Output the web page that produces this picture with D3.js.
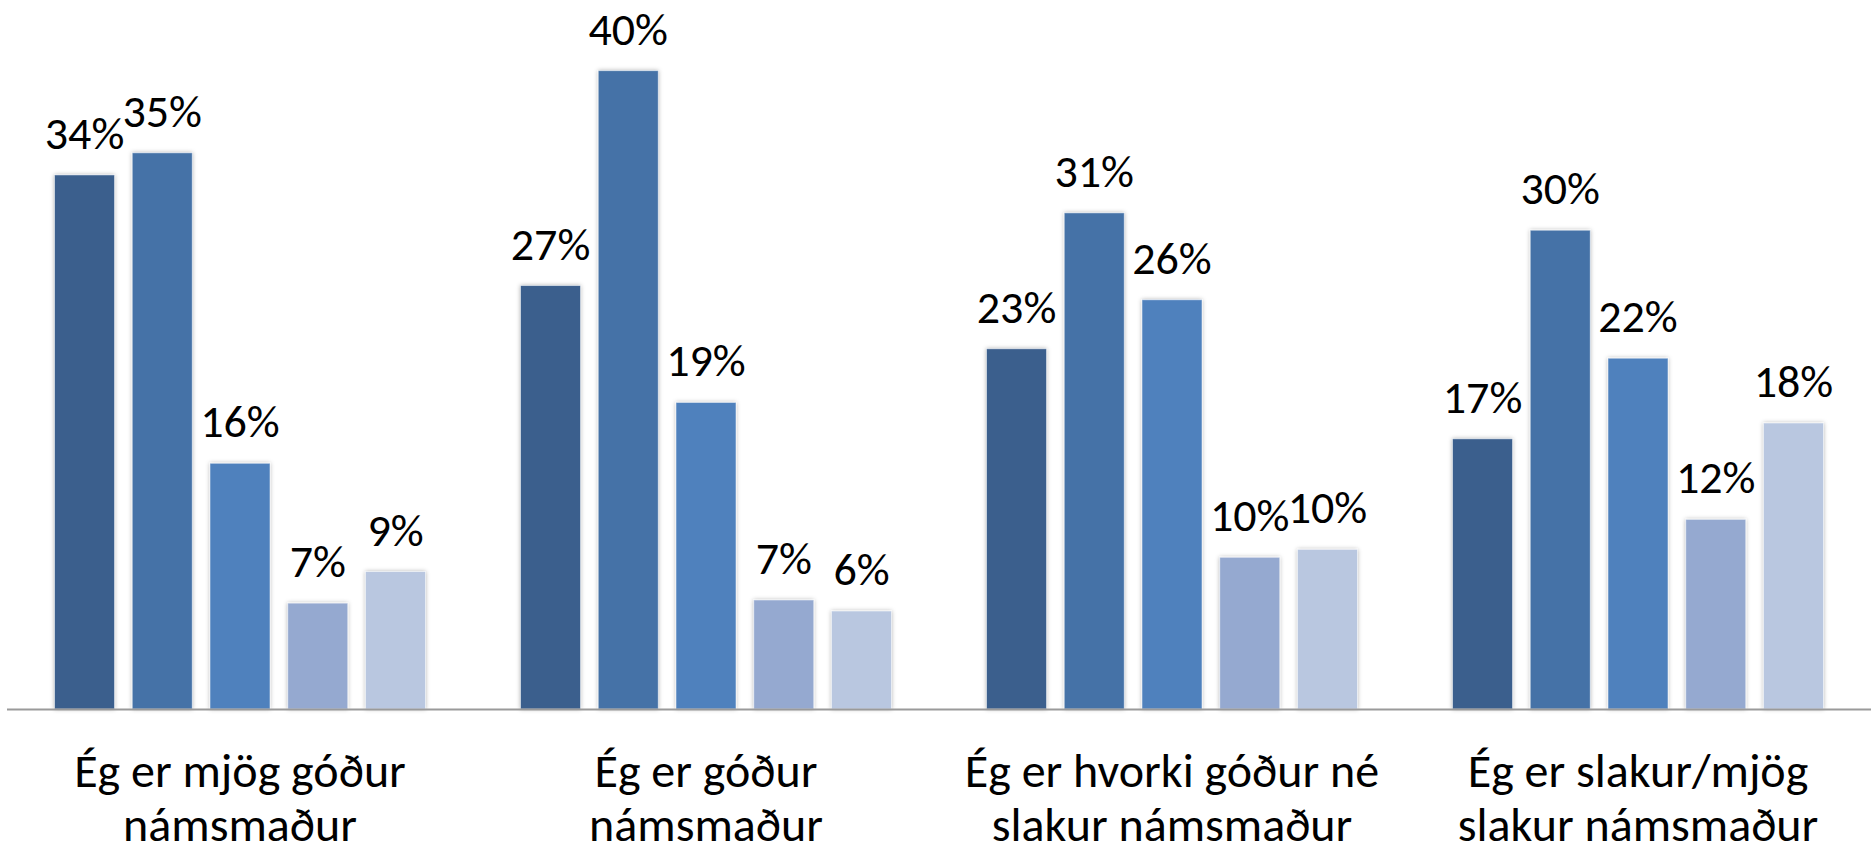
<!DOCTYPE html>
<html>
<head>
<meta charset="utf-8">
<script src="https://cdn.jsdelivr.net/npm/d3@7"></script>
<style>
  html, body { margin: 0; padding: 0; background: #fff; }
  svg { display: block; }
  text { font-family: Carlito, Calibri, Lato, sans-serif; fill: #000; }
</style>
</head>
<body>
<div id="chart"></div>
<script>
const categories = [
    ["Ég er mjög góður", "námsmaður"],
    ["Ég er góður", "námsmaður"],
    ["Ég er hvorki góður né", "slakur námsmaður"],
    ["Ég er slakur/mjög", "slakur námsmaður"]
];
const seriesKeys = ["s1", "s2", "s3", "s4", "s5"];
// values; labels show them rounded
const s1 = [0.338, 0.268, 0.228, 0.171];
const s2 = [0.352, 0.404, 0.314, 0.303];
const s3 = [0.1555, 0.194, 0.259, 0.222];
const s4 = [0.067, 0.069, 0.096, 0.120];
const s5 = [0.087, 0.062, 0.101, 0.181];
const seriesColors = ["#3b5f8d", "#4572a7", "#4f81bd", "#95a9d0", "#b9c7e0"];

const width = 1873, height = 849;
const baseY = 709, left = 7, right = 1871;

const seriesVals = [s1, s2, s3, s4, s5];
const data = categories.map((c, i) => ({
    cat: i,
    values: seriesKeys.map((k, j) => ({key: k, idx: j, value: seriesVals[j][i]}))
}));

const x0 = d3.scaleBand()
    .domain(d3.range(categories.length))
    .range([left, right]);
const x1 = d3.scaleBand()
    .domain(seriesKeys)
    .range([0, x0.bandwidth()])
    .paddingInner(0.228)
    .paddingOuter(0.611);
const y = d3.scaleLinear()
    .domain([0, 0.4487])
    .range([baseY, 0]);
const fmt = d3.format(".0%");

const svg = d3.select("#chart")
    .append("svg")
    .attr("width", width)
    .attr("height", height);

const defs = svg.append("defs");
const f = defs.append("filter")
    .attr("id", "shadow")
    .attr("x", "-20%").attr("y", "-10%")
    .attr("width", "140%").attr("height", "120%");
f.append("feDropShadow")
    .attr("dx", 0).attr("dy", 0)
    .attr("stdDeviation", 2)
    .attr("flood-color", "#000")
    .attr("flood-opacity", 0.3);

const groups = svg.selectAll(".grp")
    .data(data)
    .enter()
    .append("g")
    .attr("class", "grp")
    .attr("transform", d => `translate(${x0(d.cat)},0)`);

groups.selectAll("rect")
    .data(d => d.values)
    .enter()
    .append("rect")
    .attr("x", d => x1(d.key))
    .attr("y", d => y(d.value))
    .attr("width", x1.bandwidth())
    .attr("height", d => baseY - y(d.value))
    .attr("fill", (d) => seriesColors[d.idx])
    .attr("stroke", "rgba(255,255,255,0.5)")
    .attr("stroke-width", 1)
    .attr("filter", "url(#shadow)");

groups.selectAll(".lbl")
    .data(d => d.values)
    .enter()
    .append("text")
    .attr("class", "lbl")
    .attr("x", d => x1(d.key) + x1.bandwidth() / 2)
    .attr("y", d => y(d.value) - 26)
    .attr("text-anchor", "middle")
    .style("font-size", "46px")
    .text(d => fmt(d.value));

// axis line
svg.append("line")
    .attr("x1", left)
    .attr("x2", right)
    .attr("y1", baseY + 0.5)
    .attr("y2", baseY + 0.5)
    .attr("stroke", "#9a9a9a")
    .attr("stroke-width", 2);

// category labels
const catText = svg.selectAll(".cat")
    .data(categories)
    .enter()
    .append("text")
    .attr("class", "cat")
    .attr("text-anchor", "middle")
    .style("font-size", "48px");
catText.selectAll("tspan")
    .data((d, i) => d.map(line => ({line, i})))
    .enter()
    .append("tspan")
    .attr("x", d => x0(d.i) + x0.bandwidth() / 2)
    .attr("y", (d, k) => 787 + k * 54)
    .text(d => d.line);
</script>
</body>
</html>
